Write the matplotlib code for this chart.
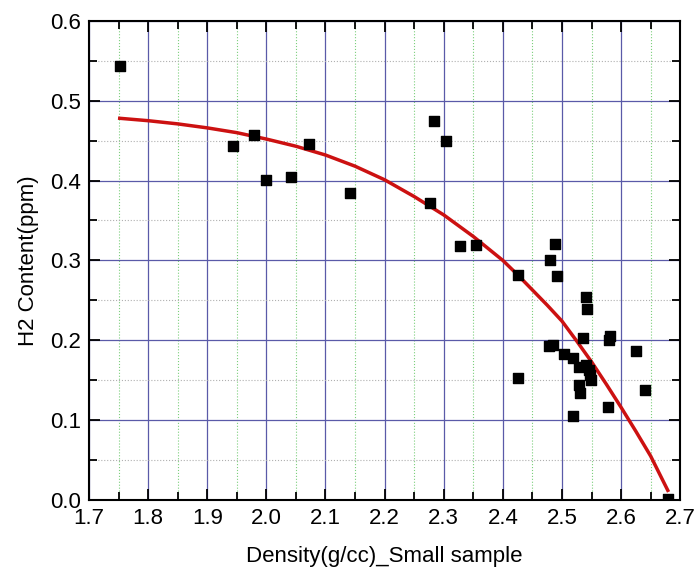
import matplotlib
matplotlib.use('Agg')
import matplotlib.pyplot as plt
from matplotlib.ticker import MultipleLocator

plt.rcParams['font.family'] = ['Liberation Sans', 'DejaVu Sans']

# measured samples
density = [1.752, 1.944, 1.979, 2.000, 2.041, 2.072, 2.142, 2.276, 2.283, 2.304,
           2.327, 2.355, 2.426, 2.426, 2.478, 2.479, 2.485, 2.489, 2.492, 2.503,
           2.518, 2.518, 2.528, 2.529, 2.531, 2.535, 2.540, 2.540, 2.543, 2.546,
           2.548, 2.549, 2.578, 2.580, 2.582, 2.625, 2.640, 2.679]
h2 = [0.543, 0.443, 0.457, 0.401, 0.404, 0.446, 0.385, 0.372, 0.474, 0.449,
      0.318, 0.319, 0.282, 0.153, 0.193, 0.301, 0.194, 0.321, 0.280, 0.183,
      0.178, 0.105, 0.144, 0.167, 0.134, 0.203, 0.254, 0.169, 0.239, 0.163,
      0.156, 0.150, 0.116, 0.200, 0.205, 0.186, 0.138, 0.001]

# fitted curve
fit_x = [1.752, 1.80, 1.85, 1.90, 1.95, 2.00, 2.05, 2.10, 2.15, 2.20,
         2.25, 2.30, 2.35, 2.40, 2.425, 2.45, 2.475, 2.50, 2.525, 2.55,
         2.575, 2.60, 2.625, 2.65, 2.679]
fit_y = [0.478, 0.475, 0.471, 0.466, 0.460, 0.452, 0.443, 0.432, 0.418, 0.401,
         0.380, 0.357, 0.330, 0.300, 0.282, 0.263, 0.244, 0.224, 0.199, 0.173,
         0.145, 0.116, 0.086, 0.055, 0.012]

fig = plt.figure(figsize=(6.98, 5.80), dpi=100)
ax = fig.add_axes([0.1275, 0.138, 0.847, 0.826])

ax.plot(fit_x, fit_y, color='#cc1111', lw=2.5, zorder=3)
ax.scatter(density, h2, marker='s', s=55, color='black', zorder=4)

ax.set_xlim(1.7, 2.7)
ax.set_ylim(0.0, 0.6)
ax.xaxis.set_major_locator(MultipleLocator(0.1))
ax.xaxis.set_minor_locator(MultipleLocator(0.05))
ax.yaxis.set_major_locator(MultipleLocator(0.1))
ax.yaxis.set_minor_locator(MultipleLocator(0.05))
ax.xaxis.set_major_formatter(plt.FormatStrFormatter('%.1f'))
ax.yaxis.set_major_formatter(plt.FormatStrFormatter('%.1f'))

ax.grid(which='major', color='#5a5aa8', lw=0.9)
ax.grid(which='minor', axis='x', color='#7ccf7c', lw=0.8, ls=':')
ax.grid(which='minor', axis='y', color='#b0b0b0', lw=0.8, ls=':')
ax.set_axisbelow(True)

ax.tick_params(which='both', direction='in', top=True, right=True, width=1.3)
ax.tick_params(which='major', length=8, labelsize=16, pad=6)
ax.tick_params(which='minor', length=6)
for s in ax.spines.values():
    s.set_linewidth(1.5)

ax.set_xlabel('Density(g/cc)_Small sample', fontsize=16, labelpad=12)
ax.set_ylabel('H2 Content(ppm)', fontsize=16, labelpad=8)

fig.savefig('out.png', dpi=100)
